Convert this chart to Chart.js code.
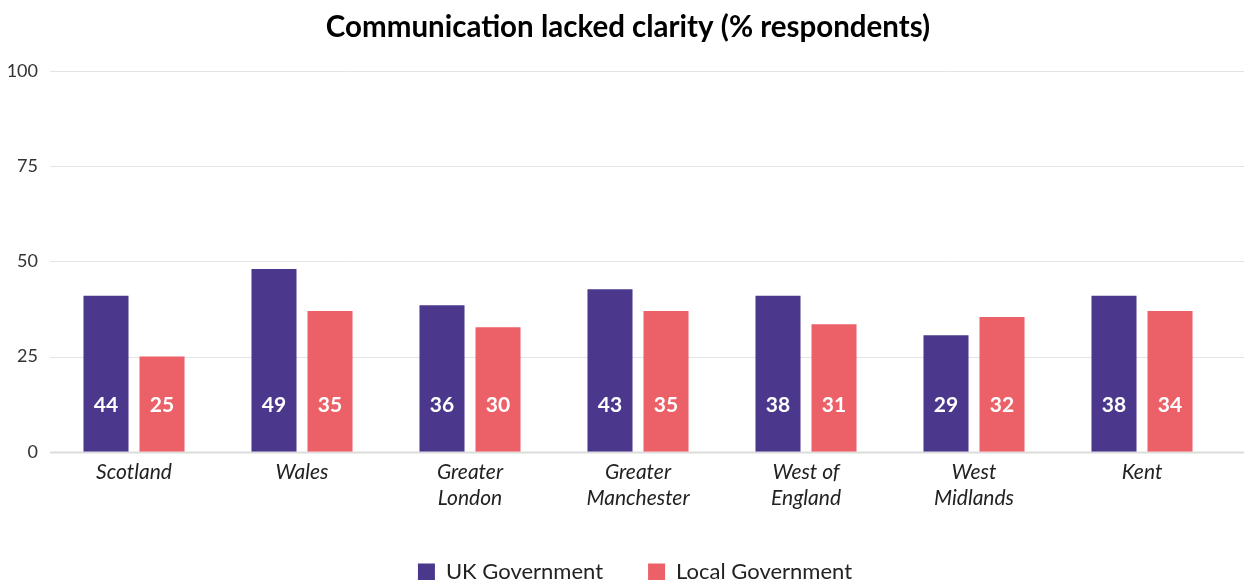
<!DOCTYPE html>
<html>
<head>
<meta charset="utf-8">
<script src="https://cdn.jsdelivr.net/npm/chart.js@4"></script>
<style>
  html, body { margin: 0; padding: 0; background: #fff; }
  #wrap { width: 1244px; height: 580px; position: relative; }
</style>
</head>
<body>
<div id="wrap"><canvas id="chart"></canvas></div>
<script>
// Regiones (categorías del eje x)
const regions = [
    'Scotland', ['Wales'], ['Greater', 'London'], ['Greater', 'Manchester'],
    ['West of', 'England'], ['West', 'Midlands'], 'Kent'
];

// Alturas de las barras tal como aparecen en la imagen
const ukGovHeights = [41, 48, 38.5, 42.7, 41, 30.6, 41];
const localGovHeights = [25, 37, 32.7, 37, 33.5, 35.4, 37];

// Etiquetas impresas dentro de cada barra
const ukGovLabels = [44, 49, 36, 43, 38, 29, 38];
const localGovLabels = [25, 35, 30, 35, 31, 32, 34];

const yTicks = [0, 25, 50, 75, 100];

const chartTitle = 'Communication lacked clarity (% respondents)';
const FONT = 'Lato, "Open Sans", sans-serif';

// Dibuja las líneas de la cuadrícula hasta el borde derecho del canvas
const gridPlugin = {
    id: 'fullGrid',
    beforeDatasetsDraw(chart) {
        const { ctx, chartArea, scales } = chart;
        ctx.save();
        yTicks.forEach((t) => {
            const y = Math.round(scales.y.getPixelForValue(t)) + 0.5;
            ctx.strokeStyle = t === 0 ? '#dcdcdc' : '#e4e4e4';
            ctx.lineWidth = t === 0 ? 2 : 1;
            ctx.beginPath();
            ctx.moveTo(chartArea.left, y);
            ctx.lineTo(chart.width, y);
            ctx.stroke();
        });
        ctx.restore();
    }
};

// Etiquetas blancas dentro de las barras
const barLabelPlugin = {
    id: 'barLabels',
    afterDatasetsDraw(chart) {
        const { ctx, scales } = chart;
        const labelSets = [ukGovLabels, localGovLabels];
        ctx.save();
        ctx.fillStyle = '#ffffff';
        ctx.font = 'bold 21px ' + FONT;
        ctx.textAlign = 'center';
        ctx.textBaseline = 'middle';
        const y = scales.y.getPixelForValue(12.2);
        chart.data.datasets.forEach((ds, i) => {
            chart.getDatasetMeta(i).data.forEach((bar, j) => {
                ctx.fillText(String(labelSets[i][j]), bar.x, y);
            });
        });
        ctx.restore();
    }
};

// Título centrado sobre el ancho completo de la figura
const titlePlugin = {
    id: 'centerTitle',
    afterDraw(chart) {
        const { ctx } = chart;
        ctx.save();
        ctx.fillStyle = '#000';
        ctx.font = 'bold 29.5px ' + FONT;
        ctx.textAlign = 'center';
        ctx.textBaseline = 'middle';
        ctx.fillText(chartTitle, 628, 27);
        ctx.restore();
    }
};

// Desplaza la leyenda un poco a la derecha
const legendShiftPlugin = {
    id: 'legendShift',
    afterLayout(chart) {
        chart.legend.left += 22;
        chart.legend.right += 22;
    }
};

new Chart(document.getElementById('chart'), {
    type: 'bar',
    data: {
        labels: regions,
        datasets: [
            {
                label: 'UK Government',
                data: ukGovHeights,
                backgroundColor: '#4b388d',
                categoryPercentage: 0.667,
                barPercentage: 0.804,
            },
            {
                label: 'Local Government',
                data: localGovHeights,
                backgroundColor: '#eb6167',
                categoryPercentage: 0.667,
                barPercentage: 0.804,
            },
        ],
    },
    options: {
        responsive: true,
        maintainAspectRatio: false,
        animation: false,
        layout: { padding: { left: 0, right: 18, top: 71, bottom: -13 } },
        plugins: {
            title: { display: false },
            legend: {
                position: 'bottom',
                labels: {
                    color: '#222',
                    font: { family: FONT, size: 22 },
                    boxWidth: 17,
                    boxHeight: 17,
                    padding: 45,
                },
            },
            tooltip: { enabled: false },
        },
        scales: {
            x: {
                grid: { display: false },
                border: { display: false },
                afterFit: (axis) => { axis.height += 5; },
                ticks: {
                    color: '#222',
                    font: { family: FONT, size: 21, style: 'italic', lineHeight: 1.22 },
                    padding: 0,
                },
            },
            y: {
                min: 0,
                max: 100,
                grid: { display: false, drawTicks: false, tickLength: 0 },
                border: { display: false },
                afterFit: (axis) => { axis.width = 50; },
                afterBuildTicks: (axis) => {
                    axis.ticks = yTicks.map((v) => ({ value: v }));
                },
                ticks: {
                    color: '#333',
                    font: { family: FONT, size: 18 },
                    padding: 12,
                },
            },
        },
    },
    plugins: [gridPlugin, barLabelPlugin, titlePlugin, legendShiftPlugin],
});
</script>
</body>
</html>
